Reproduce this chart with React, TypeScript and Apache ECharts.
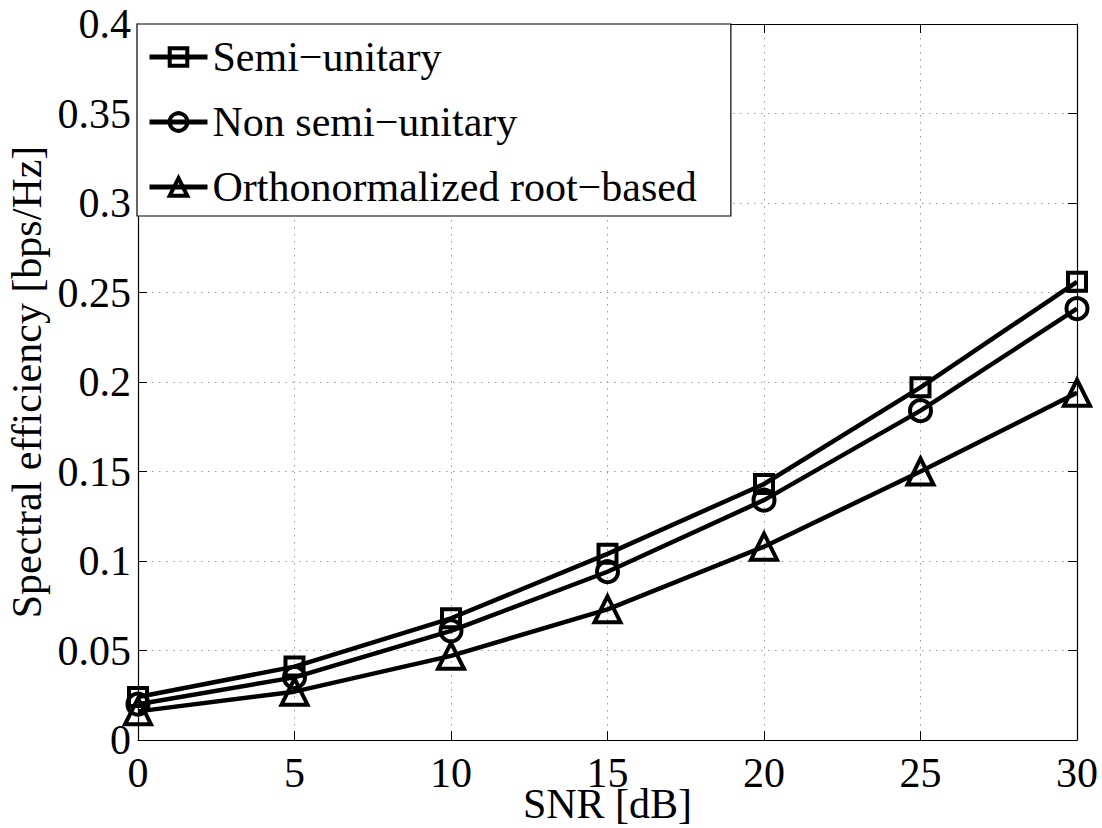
import React, { useEffect, useRef } from "react";
import * as echarts from "echarts";

const snr = [0, 5, 10, 15, 20, 25, 30];
const semiUnitary = [0.024, 0.041, 0.068, 0.104, 0.143, 0.197, 0.256];
const nonSemiUnitary = [0.02, 0.035, 0.061, 0.094, 0.134, 0.184, 0.241];
const orthoRoot = [0.016, 0.027, 0.047, 0.073, 0.108, 0.15, 0.194];
const seriesNames = ["Semi\u2212unitary", "Non semi\u2212unitary", "Orthonormalized root\u2212based"];
const yTicks = [0, 0.05, 0.1, 0.15, 0.2, 0.25, 0.3, 0.35, 0.4];
const xTicks = [0, 5, 10, 15, 20, 25, 30];

const FONT = "'Liberation Serif', 'Times New Roman', serif";

export default function App() {
  const ref = useRef<HTMLDivElement>(null);
  useEffect(() => {
    if (!ref.current) return;
    const chart = echarts.init(ref.current, null, { renderer: "svg" });
    const mk = (vals: number[]) => snr.map((x, i) => [x, vals[i]]);
    const grid = { left: 138, right: 25, top: 24, bottom: 88, containLabel: false, outerBoundsMode: "none" };
    const split = { show: true, lineStyle: { color: "#999", type: [1.5, 5.5] as any, width: 1 } };
    const axisLine = { show: true, onZero: false, lineStyle: { color: "#000", width: 1.2 } };
    const tick = { show: true, inside: true, length: 9, lineStyle: { color: "#000", width: 1 } };
    const lbl = { color: "#000", fontFamily: FONT, fontSize: 42 };
    const common = (vals: number[], name: string, symbol: string, size: number) => ({
      type: "line",
      name,
      data: mk(vals),
      symbol,
      symbolSize: size,
      showAllSymbol: true,
      lineStyle: { color: "#000", width: 4.5 },
      itemStyle: { color: "rgba(255,255,255,0)", borderColor: "#000", borderWidth: 4 },
      emphasis: { disabled: true },
      z: 3,
    });
    chart.setOption({
      animation: false,
      backgroundColor: "#fff",
      grid,
      legend: {
        orient: "vertical",
        left: 137,
        top: 24,
        data: seriesNames,
        backgroundColor: "#fff",
        borderColor: "#000",
        borderWidth: 1.2,
        borderRadius: 0,
        padding: [8, 34, 4, 10],
        itemWidth: 58,
        itemHeight: 22,
        itemGap: 15,
        itemStyle: { color: "rgba(255,255,255,0)", borderColor: "#000", borderWidth: 4 },
        lineStyle: { color: "#000", width: 5 },
        textStyle: { color: "#000", fontFamily: FONT, fontSize: 42, lineHeight: 50 },
        selectedMode: false,
        z: 10,
      },
      xAxis: [
        {
          type: "value",
          min: 0,
          max: 30,
          interval: 5,
          name: "SNR [dB]",
          nameLocation: "middle",
          nameGap: 49,
          nameMoveOverlap: false,
          nameTextStyle: { ...lbl, lineHeight: 30 },
          axisLine,
          axisTick: tick,
          axisLabel: {
            ...lbl,
            lineHeight: 30,
            margin: 18,
            formatter: (v: number) => (xTicks.includes(v) ? String(v) : ""),
          },
          splitLine: split,
        },
        {
          type: "value",
          position: "top",
          min: 0,
          max: 30,
          interval: 5,
          axisLine,
          axisTick: tick,
          axisLabel: { show: false },
          splitLine: { show: false },
        },
      ],
      yAxis: [
        {
          type: "value",
          min: 0,
          max: 0.4,
          interval: 0.05,
          name: "Spectral efficiency [bps/Hz]",
          nameLocation: "middle",
          nameGap: 90,
          nameMoveOverlap: false,
          nameTextStyle: lbl,
          axisLine,
          axisTick: tick,
          axisLabel: {
            ...lbl,
            margin: 7,
            formatter: (v: number) => {
              const t = yTicks.find((y) => Math.abs(y - v) < 1e-9);
              return t === undefined ? "" : String(+t.toFixed(2));
            },
          },
          splitLine: split,
        },
        {
          type: "value",
          position: "right",
          min: 0,
          max: 0.4,
          interval: 0.05,
          axisLine,
          axisTick: tick,
          axisLabel: { show: false },
          splitLine: { show: false },
        },
      ],
      series: [
        common(semiUnitary, seriesNames[0], "rect", 18),
        common(nonSemiUnitary, seriesNames[1], "circle", 21),
        common(orthoRoot, seriesNames[2], "triangle", 26),
      ],
    });
    return () => chart.dispose();
  }, []);
  return (
    <div
      ref={ref}
      style={{ position: "fixed", left: 0, top: 0, width: 1102, height: 828, background: "#fff" }}
    />
  );
}
